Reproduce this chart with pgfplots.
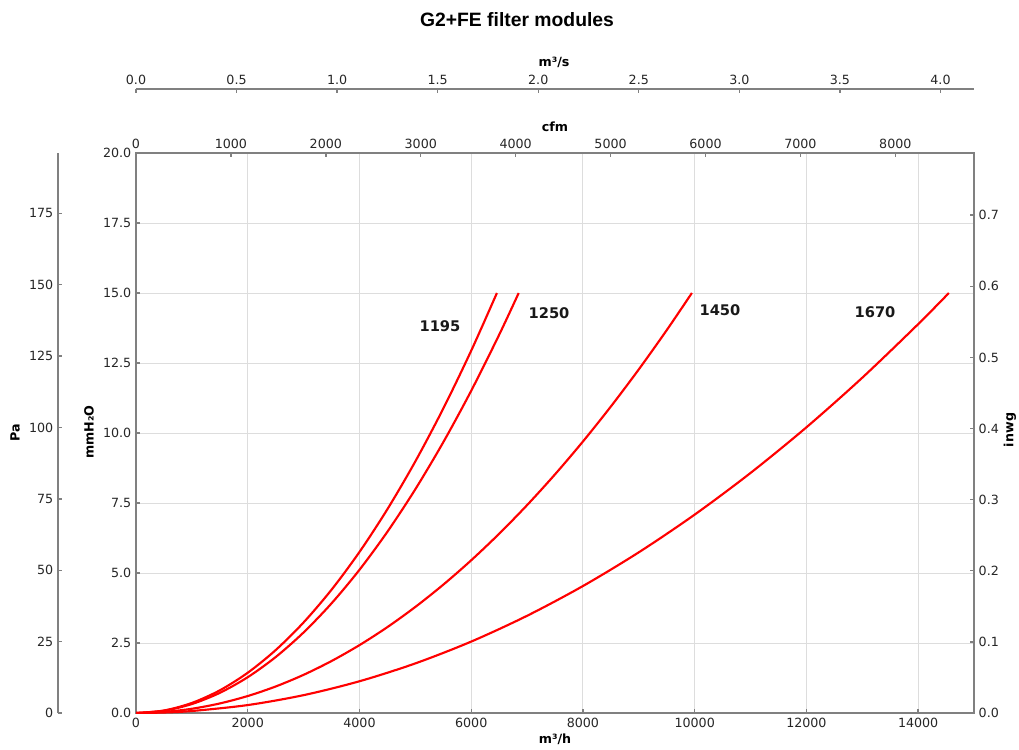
\documentclass[border=0pt]{standalone}
\usepackage{fontspec}
\setmainfont{DejaVu Sans}
\newfontfamily\titlefont{Liberation Sans}
\usepackage{pgfplots}
\pgfplotsset{compat=1.18}
\definecolor{spine}{HTML}{808080}
\definecolor{ticktext}{HTML}{262626}
\definecolor{gridc}{HTML}{DDDDDD}
\pgfplotsset{
  myax/.style={scale only axis,
    scaled ticks=false,
    /pgf/number format/assume math mode=true,
    tick label style={font=\fontsize{9.5}{11}\selectfont, text=ticktext},
    axis line style={spine, line width=1.2pt, -},
    every tick/.style={spine, line width=1pt},
    major tick length=3pt, tick align=inside,
    /pgf/number format/1000 sep={}},
  onedec/.style={/pgf/number format/.cd, fixed, fixed zerofill, precision=1},
}
\begin{document}
\begin{tikzpicture}
\path[use as bounding box] (0,0) rectangle (764.25pt,561.75pt);

% main axis (m3/h vs mmH2O)
\begin{axis}[myax, at={(102pt,27pt)}, anchor=south west,
  width=628.5pt, height=420pt,
  xmin=0, xmax=15000, ymin=0, ymax=20,
  xtick={0,2000,4000,6000,8000,10000,12000,14000},
  ytick={0,2.5,5,7.5,10,12.5,15,17.5,20},
  xtick pos=left, ytick pos=left,
  grid=major, grid style={gridc, line width=0.7pt},
  yticklabel style={onedec}]
\addplot[red, line width=1.6pt, smooth] coordinates {
(0,0) (500,0.0899) (1000,0.3594) (1500,0.8087) (2000,1.4378) (2500,2.2465)
(3000,3.2350) (3500,4.4031) (4000,5.7510) (4500,7.2787) (5000,8.9860)
(5500,10.8731) (6000,12.9398) (6460,15.0)};
\addplot[red, line width=1.6pt, smooth] coordinates {
(0,0) (500,0.0799) (1000,0.3197) (1500,0.7193) (2000,1.2787) (2500,1.9980)
(3000,2.8771) (3500,3.9160) (4000,5.1148) (4500,6.4734) (5000,7.9919)
(5500,9.6702) (6000,11.5083) (6500,13.5063) (6850,15.0)};
\addplot[red, line width=1.6pt, smooth] coordinates {
(0,0) (500,0.0379) (1000,0.1515) (1500,0.3409) (2000,0.6060) (2500,0.9469)
(3000,1.3636) (3500,1.8560) (4000,2.4242) (4500,3.0681) (5000,3.7878)
(5500,4.5832) (6000,5.4544) (6500,6.4013) (7000,7.4240) (7500,8.5225)
(8000,9.6967) (8500,10.9467) (9000,12.2724) (9500,13.6739) (9950,15.0)};
\addplot[red, line width=1.6pt, smooth] coordinates {
(0,0) (500,0.0177) (1000,0.0709) (2000,0.2834) (3000,0.6377) (4000,1.1337)
(5000,1.7714) (6000,2.5508) (7000,3.4719) (8000,4.5347) (9000,5.7392)
(10000,7.0854) (11000,8.5734) (12000,10.2030) (13000,11.9744)
(14000,13.8874) (14550,15.0)};
\node[font=\bfseries\fontsize{11}{13}\selectfont, text=black!90] at (axis cs:5441,13.82) {1195};
\node[font=\bfseries\fontsize{11}{13}\selectfont, text=black!90] at (axis cs:7393,14.29) {1250};
\node[font=\bfseries\fontsize{11}{13}\selectfont, text=black!90] at (axis cs:10453,14.39) {1450};
\node[font=\bfseries\fontsize{11}{13}\selectfont, text=black!90] at (axis cs:13228,14.32) {1670};
\end{axis}

% cfm top axis
\begin{axis}[myax, at={(102pt,27pt)}, anchor=south west,
  width=628.5pt, height=420pt,
  xmin=0, xmax=8828.7, ymin=0, ymax=1,
  axis x line*=top, hide y axis,
  xtick={0,1000,2000,3000,4000,5000,6000,7000,8000}]
\end{axis}

% inwg right axis
\begin{axis}[myax, at={(102pt,27pt)}, anchor=south west,
  width=628.5pt, height=420pt,
  xmin=0, xmax=1, ymin=0, ymax=0.787402,
  axis y line*=right, hide x axis,
  ytick={0,0.1,0.2,0.3,0.4,0.5,0.6,0.7},
  yticklabel style={onedec}]
\end{axis}

% m3/s axis
\begin{axis}[myax, at={(102pt,495pt)}, anchor=north west,
  width=628.5pt, height=5pt,
  xmin=0, xmax=4.1666667, ymin=0, ymax=1,
  axis x line*=top, hide y axis,
  xtick={0,0.5,1,1.5,2,2.5,3,3.5,4},
  xticklabel style={onedec}]
\end{axis}

% Pa axis
\begin{axis}[myax, at={(43.5pt,27pt)}, anchor=south west,
  width=5pt, height=420pt,
  xmin=0, xmax=1, ymin=0, ymax=196.133,
  axis y line*=left, hide x axis,
  ytick={0,25,50,75,100,125,150,175}]
\end{axis}

% labels
\node[font=\titlefont\bfseries\fontsize{14.5}{17}\selectfont] at (387.75pt,546.75pt) {G2+FE filter modules};
\node[font=\bfseries\fontsize{9.5}{11}\selectfont, rotate=90] at (11.25pt,237pt) {Pa};
\node[font=\bfseries\fontsize{9.5}{11}\selectfont, rotate=90] at (66.75pt,237.75pt) {mmH₂O};
\node[font=\bfseries\fontsize{9.5}{11}\selectfont, rotate=90] at (757.5pt,239.25pt) {inwg};
\node[font=\bfseries\fontsize{9.5}{11}\selectfont] at (416.25pt,7.5pt) {m³/h};
\node[font=\bfseries\fontsize{9.5}{11}\selectfont] at (416.25pt,466.5pt) {cfm};
\node[font=\bfseries\fontsize{9.5}{11}\selectfont] at (415.5pt,515.25pt) {m³/s};
\end{tikzpicture}
\end{document}
